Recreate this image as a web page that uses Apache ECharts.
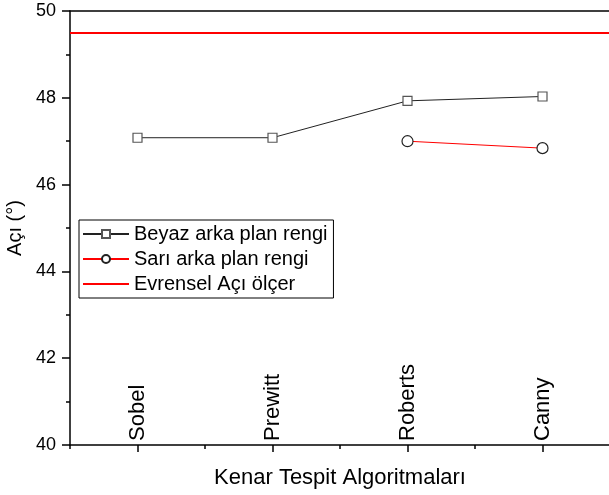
<!DOCTYPE html>
<html>
<head>
<meta charset="utf-8">
<script src="https://cdn.jsdelivr.net/npm/echarts@6/dist/echarts.min.js"></script>
<style>
  html, body { margin: 0; padding: 0; background: #fff; }
  #chart { width: 609px; height: 495px; }
</style>
</head>
<body>
<div id="chart"></div>
<script>
// Edge detection algorithms on the x axis
const categories = ['Sobel', 'Prewitt', 'Roberts', 'Canny'];
// Measured angle (degrees) for each background colour
const whiteBackground = [47.08, 47.08, 47.93, 48.03];
const yellowBackground = [null, null, 47.00, 46.84];
// Reference reading from the universal protractor
const protractorAngle = 49.5;
const yTicks = [40, 42, 44, 46, 48, 50];

const FONT = "'Liberation Sans', Arial, sans-serif";
// Plain horizontal bar used as the legend key of the protractor line
const BAR_ICON = 'path://M0,0 L0,0 M0,4 L46,4 L46,6 L0,6 Z M46,10 L46,10';

const chart = echarts.init(document.getElementById('chart'), null, { renderer: 'canvas' });

chart.setOption({
  animation: false,
  backgroundColor: '#fff',
  textStyle: { fontFamily: FONT, color: '#000' },
  grid: { left: 70, right: -1, top: 11, bottom: 50, containLabel: false, outerBoundsMode: 'none' },
  legend: {
    left: 79, top: 220,
    orient: 'vertical',
    itemWidth: 46, itemHeight: 10, itemGap: 5,
    padding: [4, 6, 4, 3],
    borderColor: '#000', borderWidth: 1,
    textStyle: { fontFamily: FONT, fontSize: 20, color: '#000' },
    data: [
      { name: 'Beyaz arka plan rengi' },
      { name: 'Sarı arka plan rengi' },
      { name: 'Evrensel Açı ölçer', icon: BAR_ICON, itemStyle: { color: '#ff0000' } }
    ]
  },
  xAxis: [
    {
      type: 'category', data: categories, position: 'bottom',
      boundaryGap: true,
      name: 'Kenar Tespit Algoritmaları', nameLocation: 'middle', nameGap: 22,
      nameTextStyle: { fontFamily: FONT, fontSize: 22, color: '#000' },
      axisLine: { show: true, lineStyle: { color: '#000', width: 1.5 } },
      axisTick: { show: true, alignWithLabel: true, length: 7, lineStyle: { color: '#000', width: 1.5 } },
      axisLabel: { inside: true, rotate: 90, margin: 4, padding: [8, 0, 0, 0], fontFamily: FONT, fontSize: 22, color: '#000' },
      splitLine: { show: false }
    },
    {
      type: 'category', data: categories, position: 'bottom',
      boundaryGap: true,
      axisLine: { show: false },
      axisTick: { show: true, length: 4, lineStyle: { color: '#000', width: 1.5 } },
      axisLabel: { show: false },
      splitLine: { show: false }
    },
    {
      type: 'category', data: categories, position: 'top',
      boundaryGap: true,
      axisLine: { show: true, lineStyle: { color: '#000', width: 1.5 } },
      axisTick: { show: false },
      axisLabel: { show: false },
      splitLine: { show: false }
    }
  ],
  yAxis: {
    type: 'value', min: yTicks[0], max: yTicks[yTicks.length - 1], interval: 2,
    name: 'Açı (°)', nameLocation: 'middle', nameGap: 44,
    nameTextStyle: { fontFamily: FONT, fontSize: 20, color: '#000' },
    axisLine: { show: true, lineStyle: { color: '#000', width: 1.5 } },
    axisTick: { show: true, length: 8, lineStyle: { color: '#000', width: 1.5 } },
    minorTick: { show: true, splitNumber: 2, length: 4, lineStyle: { color: '#000', width: 1.5 } },
    axisLabel: { margin: 14, fontFamily: FONT, fontSize: 18, color: '#000' },
    splitLine: { show: false }
  },
  series: [
    {
      name: 'Beyaz arka plan rengi', type: 'line', data: whiteBackground,
      symbol: 'rect', symbolSize: 9,
      itemStyle: { color: '#fff', borderColor: '#555', borderWidth: 1.2 },
      lineStyle: { color: '#222', width: 1 },
      z: 3
    },
    {
      name: 'Sarı arka plan rengi', type: 'line', data: yellowBackground,
      symbol: 'circle', symbolSize: 11,
      itemStyle: { color: '#fff', borderColor: '#222', borderWidth: 1.2 },
      lineStyle: { color: '#ff0000', width: 1 },
      z: 3
    },
    {
      name: 'Evrensel Açı ölçer', type: 'line', data: [],
      symbol: 'none',
      itemStyle: { color: '#ff0000' },
      lineStyle: { color: '#ff0000', width: 2 },
      markLine: {
        silent: true, symbol: ['none', 'none'],
        label: { show: false },
        lineStyle: { color: '#ff0000', width: 2, type: 'solid' },
        data: [{ yAxis: protractorAngle }]
      }
    }
  ]
});
</script>
</body>
</html>
